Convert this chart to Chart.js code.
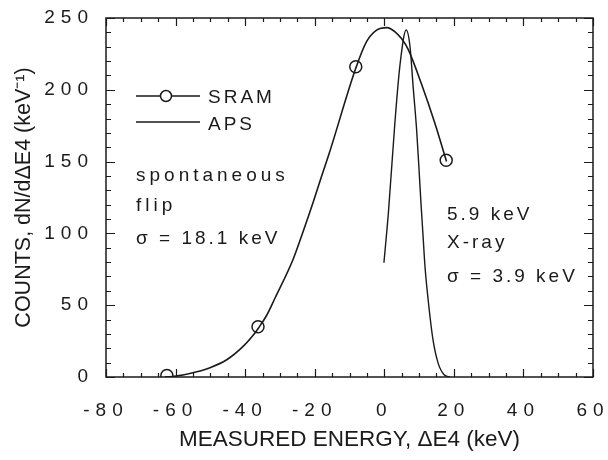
<!DOCTYPE html>
<html>
<head>
<meta charset="utf-8">
<script src="https://cdn.jsdelivr.net/npm/chart.js@4.4.1/dist/chart.umd.min.js"></script>
<style>
  html, body { margin: 0; padding: 0; background: #fff; }
  #wrap { width: 608px; height: 460px; }
</style>
</head>
<body>
<div id="wrap"><canvas id="c" width="608" height="460"></canvas></div>
<script>
var X_TICKS = [-80, -60, -40, -20, 0, 20, 40, 60];
var Y_TICKS = [0, 50, 100, 150, 200, 250];

// SRAM: curva ajustada (sigma = 18.1 keV) e pontos medidos
var SRAM_CURVE_X = [-63, -61.6, -55.9, -50.1, -45.3, -40.5, -37.7, -36.2, -33.8, -31.4, -26.2, -23.3, -20.4, -18, -15.8, -8.2, -5.1, -2.2, 0.8, 3, 5, 6.9, 10.7, 14.5, 17.9];
var SRAM_CURVE_Y = [0.1, 0.2, 2.5, 6.5, 12, 21.5, 29, 34, 43, 55, 82, 101.5, 122, 140, 156, 215, 233.5, 241.6, 243.3, 240.5, 235.5, 228, 204, 177, 150];
var SRAM_PTS_X = [-62.5, -36.3, -8.2, 17.8];
var SRAM_PTS_Y = [1, 35, 216, 151];

// APS: pico estreito do raio X de 5.9 keV (sigma = 3.9 keV)
var APS_X = [-0.1, 1.2, 3.0, 4.5, 6.3, 7.4, 8.3, 9.3, 10, 10.5, 11.1, 11.7, 12.6, 14, 15.5, 17.2, 18.9];
var APS_Y = [79.6, 115, 175.5, 217, 241.6, 230, 202, 172, 144, 123, 100, 77, 54, 26, 9.5, 1.6, 0];

var INK = "#1a1a1a";
var FONT = "'Liberation Sans', Arial, Helvetica, sans-serif";

function pts(xs, ys) {
  return xs.map(function (x, i) { return { x: x, y: ys[i] }; });
}

// moldura completa com marcas para dentro nos quatro lados
var frameTicks = {
  id: "frameTicks",
  afterDraw: function (chart) {
    var ctx = chart.ctx, a = chart.chartArea;
    var xs = chart.scales.x, ys = chart.scales.y;
    ctx.save();
    ctx.strokeStyle = INK;
    ctx.lineWidth = 1.5;
    ctx.strokeRect(a.left, a.top, a.right - a.left, a.bottom - a.top);
    ctx.lineWidth = 1.2;
    ctx.beginPath();
    for (var v = -80; v <= 60; v += 5) {
      var px = Math.round(xs.getPixelForValue(v)) + 0.5;
      var len = (v % 20 === 0) ? 8 : 4;
      ctx.moveTo(px, a.bottom); ctx.lineTo(px, a.bottom - len);
      ctx.moveTo(px, a.top); ctx.lineTo(px, a.top + len);
    }
    for (var w = 0; w <= 250; w += 10) {
      var py = Math.round(ys.getPixelForValue(w)) + 0.5;
      var l2 = (w % 50 === 0) ? 9 : 5;
      ctx.moveTo(a.left, py); ctx.lineTo(a.left + l2, py);
      ctx.moveTo(a.right, py); ctx.lineTo(a.right - l2, py);
    }
    ctx.stroke();
    ctx.restore();
  }
};

// espaçamento largo dos rótulos dos eixos (desenhados depois dos datasets)
var spacing = {
  id: "spacing",
  beforeDraw: function (chart) { chart.ctx.letterSpacing = "0px"; },
  afterDatasetsDraw: function (chart) { chart.ctx.letterSpacing = "6px"; }
};

// legenda e anotações de texto dentro da área do gráfico
var notes = {
  id: "notes",
  afterDraw: function (chart) {
    var ctx = chart.ctx;
    ctx.save();
    ctx.letterSpacing = "3px";
    ctx.fillStyle = INK;
    ctx.strokeStyle = INK;
    ctx.font = "19px " + FONT;
    ctx.textBaseline = "alphabetic";
    ctx.textAlign = "left";

    ctx.lineWidth = 1.5;
    ctx.beginPath();
    ctx.moveTo(136, 96); ctx.lineTo(160.5, 96);
    ctx.moveTo(171.5, 96); ctx.lineTo(200, 96);
    ctx.moveTo(136, 122); ctx.lineTo(200, 122);
    ctx.stroke();
    ctx.beginPath();
    ctx.arc(166, 96, 5.5, 0, Math.PI * 2);
    ctx.stroke();
    ctx.fillText("SRAM", 208, 103);
    ctx.fillText("APS", 208, 130);

    ctx.letterSpacing = "4px";
    ctx.fillText("spontaneous", 136, 181);
    ctx.fillText("flip", 136, 211);
    ctx.letterSpacing = "3px";
    ctx.fillText("\u03c3 = 18.1 keV", 136, 244);

    ctx.fillText("5.9 keV", 447, 220);
    ctx.fillText("X-ray", 447, 248);
    ctx.fillText("\u03c3 = 3.9 keV", 447, 282);

    ctx.letterSpacing = "0px";
    ctx.restore();
  }
};

new Chart(document.getElementById("c"), {
  type: "line",
  data: {
    datasets: [
      {
        label: "SRAM",
        data: pts(SRAM_CURVE_X, SRAM_CURVE_Y),
        borderColor: INK,
        borderWidth: 1.6,
        pointRadius: 0,
        cubicInterpolationMode: "monotone",
        fill: false,
      },
      {
        label: "SRAM pontos",
        data: pts(SRAM_PTS_X, SRAM_PTS_Y),
        showLine: false,
        pointRadius: 6,
        pointStyle: "circle",
        pointBorderColor: INK,
        pointBackgroundColor: "rgba(0,0,0,0)",
        pointBorderWidth: 1.5,
      },
      {
        label: "APS",
        data: pts(APS_X, APS_Y),
        borderColor: INK,
        borderWidth: 1.4,
        pointRadius: 0,
        cubicInterpolationMode: "monotone",
        fill: false,
      },
    ],
  },
  options: {
    responsive: false,
    animation: false,
    devicePixelRatio: 1,
    layout: { padding: { left: 0, right: 15, top: 18, bottom: 0 } },
    plugins: { legend: { display: false }, tooltip: { enabled: false } },
    scales: {
      x: {
        type: "linear",
        min: -80,
        max: 60,
        afterBuildTicks: function (s) { s.ticks = X_TICKS.map(function (v) { return { value: v }; }); },
        afterFit: function (s) { s.height = 83; s.paddingLeft = 0; s.paddingRight = 0; },
        grid: { display: false, drawTicks: false },
        border: { display: false },
        ticks: {
          z: 1,
          padding: 22,
          maxRotation: 0,
          autoSkip: false,
          color: INK,
          font: { family: FONT, size: 19 },
        },
        title: {
          display: true,
          text: "MEASURED ENERGY, \u0394E4 (keV)",
          color: INK,
          font: { family: FONT, size: 22.5 },
          padding: { top: 0, bottom: 6.5 },
        },
      },
      y: {
        type: "linear",
        min: 0,
        max: 250,
        afterBuildTicks: function (s) { s.ticks = Y_TICKS.map(function (v) { return { value: v }; }); },
        afterFit: function (s) { s.width = 106; s.paddingTop = 0; s.paddingBottom = 0; },
        grid: { display: false, drawTicks: false },
        border: { display: false },
        ticks: {
          z: 1,
          padding: 12,
          color: INK,
          font: { family: FONT, size: 19 },
        },
        title: {
          display: true,
          text: "COUNTS, dN/d\u0394E4 (keV\u207b\u00b9)",
          color: INK,
          font: { family: FONT, size: 21.5 },
          padding: { top: 11, bottom: 0 },
        },
      },
    },
  },
  plugins: [spacing, frameTicks, notes],
});
</script>
</body>
</html>
